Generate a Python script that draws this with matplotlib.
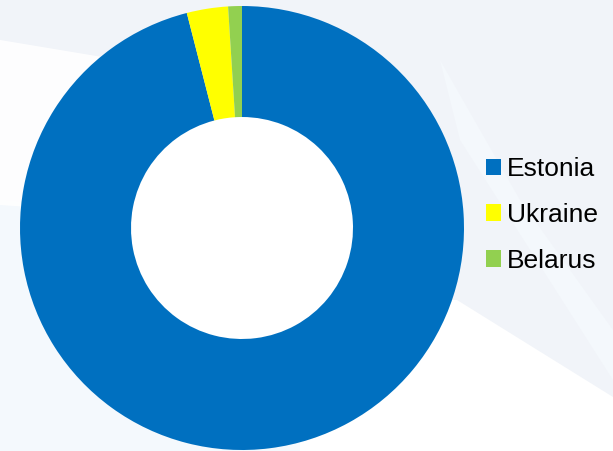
import matplotlib.pyplot as plt
import numpy as np
from matplotlib.patches import Polygon

# data
countries = ['Estonia', 'Ukraine', 'Belarus']
shares = [96.0, 3.0, 1.0]
colors = ['#0070C0', '#FFFF00', '#92D050']

plt.rcParams['font.family'] = ['Liberation Sans', 'DejaVu Sans']

W, H = 613, 451
fig = plt.figure(figsize=(W / 100, H / 100), dpi=100)
fig.patch.set_facecolor('#F1F4F9')

# soft background: light blue lower left, white swooshes
bg = fig.add_axes([0, 0, 1, 1])
bg.set_xlim(0, W)
bg.set_ylim(H, 0)
bg.axis('off')
bg.add_patch(Polygon([[0, 200], [0, H], [300, H], [300, 230]],
                     closed=True, facecolor='#F4F9FD', edgecolor='none'))
bg.add_patch(Polygon([[0, 40], [0, 205], [150, 215], [200, 160], [120, 60]],
                     closed=True, facecolor='white', edgecolor='none', alpha=0.9))
bg.add_patch(Polygon([[457, 300], [W, 397], [W, H], [300, H], [300, 300]],
                     closed=True, facecolor='white', edgecolor='none'))
bg.add_patch(Polygon([[440, 60], [460, 140], [W, 380], [W, 330], [520, 200]],
                     closed=True, facecolor='#F4F8FC', edgecolor='none'))

# donut
ax = fig.add_axes([20 / W, 1 / H, 444 / W, 444 / H])
wedges, _ = ax.pie(shares, colors=colors, startangle=90, counterclock=False,
                   radius=1, wedgeprops=dict(width=0.5, edgecolor='none'))
ax.add_patch(plt.Circle((0, 0), 0.5, color='white', zorder=0))
ax.set_xlim(-1, 1)
ax.set_ylim(-1, 1)
ax.set_aspect('equal')

leg = fig.legend(wedges, countries, loc='center left',
                 bbox_to_anchor=(462 / W, 1 - 215 / H),
                 frameon=False, fontsize=19, handlelength=0.58, handleheight=0.58,
                 handletextpad=0.22, labelspacing=0.82)

fig.savefig('out.png', dpi=100, facecolor=fig.get_facecolor())
